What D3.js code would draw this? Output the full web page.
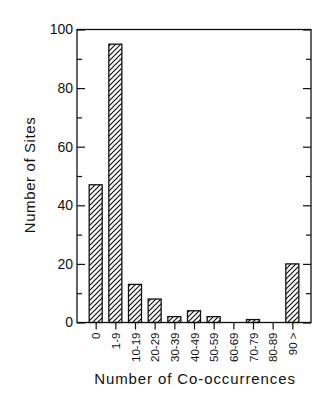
<!DOCTYPE html>
<html><head><meta charset="utf-8">
<script src="https://cdn.jsdelivr.net/npm/d3@7"></script>
<style>body{margin:0;background:#fff}svg{display:block}text{font-family:"Liberation Sans",Arial,sans-serif;fill:#111}</style>
</head><body><div id="c"></div>
<script>
const categories = ["0","1-9","10-19","20-29","30-39","40-49","50-59","60-69","70-79","80-89","90 >"];
const siteCounts = [47,95,13,8,2,4,2,0,1,0,20];
const yTicks = [0,20,40,60,80,100];
const yMinorTicks = [10,30,50,70,90];

const W=320,H=397;
const L=77,R=311,T=29.5,B=322.5;
const svg=d3.select("#c").append("svg").attr("width",W).attr("height",H);
const defs=svg.append("defs");
const pat=defs.append("pattern").attr("id","hatch").attr("patternUnits","userSpaceOnUse").attr("width",5).attr("height",5);
pat.append("rect").attr("width",5).attr("height",5).attr("fill","#fff");
pat.append("path").attr("d","M-1,1 l2,-2 M0,5 l5,-5 M4,6 l2,-2").attr("stroke","#111").attr("stroke-width",1.2);

const x=d3.scalePoint().domain(categories).range([L,R]).padding(0.95);
const y=d3.scaleLinear().domain([0,100]).range([B,T]);
const bw=13;

svg.append("g").selectAll("rect").data(categories).join("rect")
  .attr("x",d=>x(d)-bw/2).attr("width",bw)
  .attr("y",(d,i)=>y(siteCounts[i])).attr("height",(d,i)=>y(0)-y(siteCounts[i]))
  .attr("fill","url(#hatch)").attr("stroke","#111").attr("stroke-width",1.3)
  .attr("display",(d,i)=>siteCounts[i]>0?null:"none");

// frame
svg.append("rect").attr("x",L).attr("y",T).attr("width",R-L).attr("height",B-T).attr("fill","none").attr("stroke","#111").attr("stroke-width",1.3);

// left axis (inward ticks)
const la=svg.append("g").attr("transform",`translate(${L},0)`).call(d3.axisRight(y).tickValues(yTicks).tickSize(8).tickFormat(""));
la.select(".domain").remove();
const lam=svg.append("g").attr("transform",`translate(${L},0)`).call(d3.axisRight(y).tickValues(yMinorTicks).tickSize(5).tickFormat(""));
lam.select(".domain").remove();
const ll=svg.append("g").attr("transform",`translate(${L},0)`).call(d3.axisLeft(y).tickValues(yTicks).tickSize(0).tickPadding(4));
ll.select(".domain").remove();
ll.selectAll("text").attr("font-size",14).style("font-family","Liberation Sans, Arial, sans-serif");
// right axis
const ra=svg.append("g").attr("transform",`translate(${R},0)`).call(d3.axisLeft(y).tickValues(yTicks).tickSize(8).tickFormat(""));
ra.select(".domain").remove();
const ram=svg.append("g").attr("transform",`translate(${R},0)`).call(d3.axisLeft(y).tickValues(yMinorTicks).tickSize(5).tickFormat(""));
ram.select(".domain").remove();
svg.selectAll(".tick line").attr("stroke","#111").attr("stroke-width",1.2);

// bottom axis
const ba=svg.append("g").attr("transform",`translate(0,${B})`).call(d3.axisBottom(x).tickSize(7).tickPadding(3));
ba.select(".domain").remove();
ba.selectAll(".tick line").attr("stroke","#111").attr("stroke-width",1.2);
ba.selectAll("text").attr("font-size",11.5).style("font-family","Liberation Sans, Arial, sans-serif")
  .attr("transform","rotate(-90)").attr("text-anchor","end").attr("x",-10).attr("y",0).attr("dy","0.35em");

svg.append("text").attr("x",195).attr("y",384).attr("text-anchor","middle").attr("font-size",15).attr("letter-spacing",0.9).text("Number of Co-occurrences");
svg.append("text").attr("transform","translate(35,175) rotate(-90)").attr("text-anchor","middle").attr("font-size",15).attr("letter-spacing",0.6).text("Number of Sites");
</script></body></html>
